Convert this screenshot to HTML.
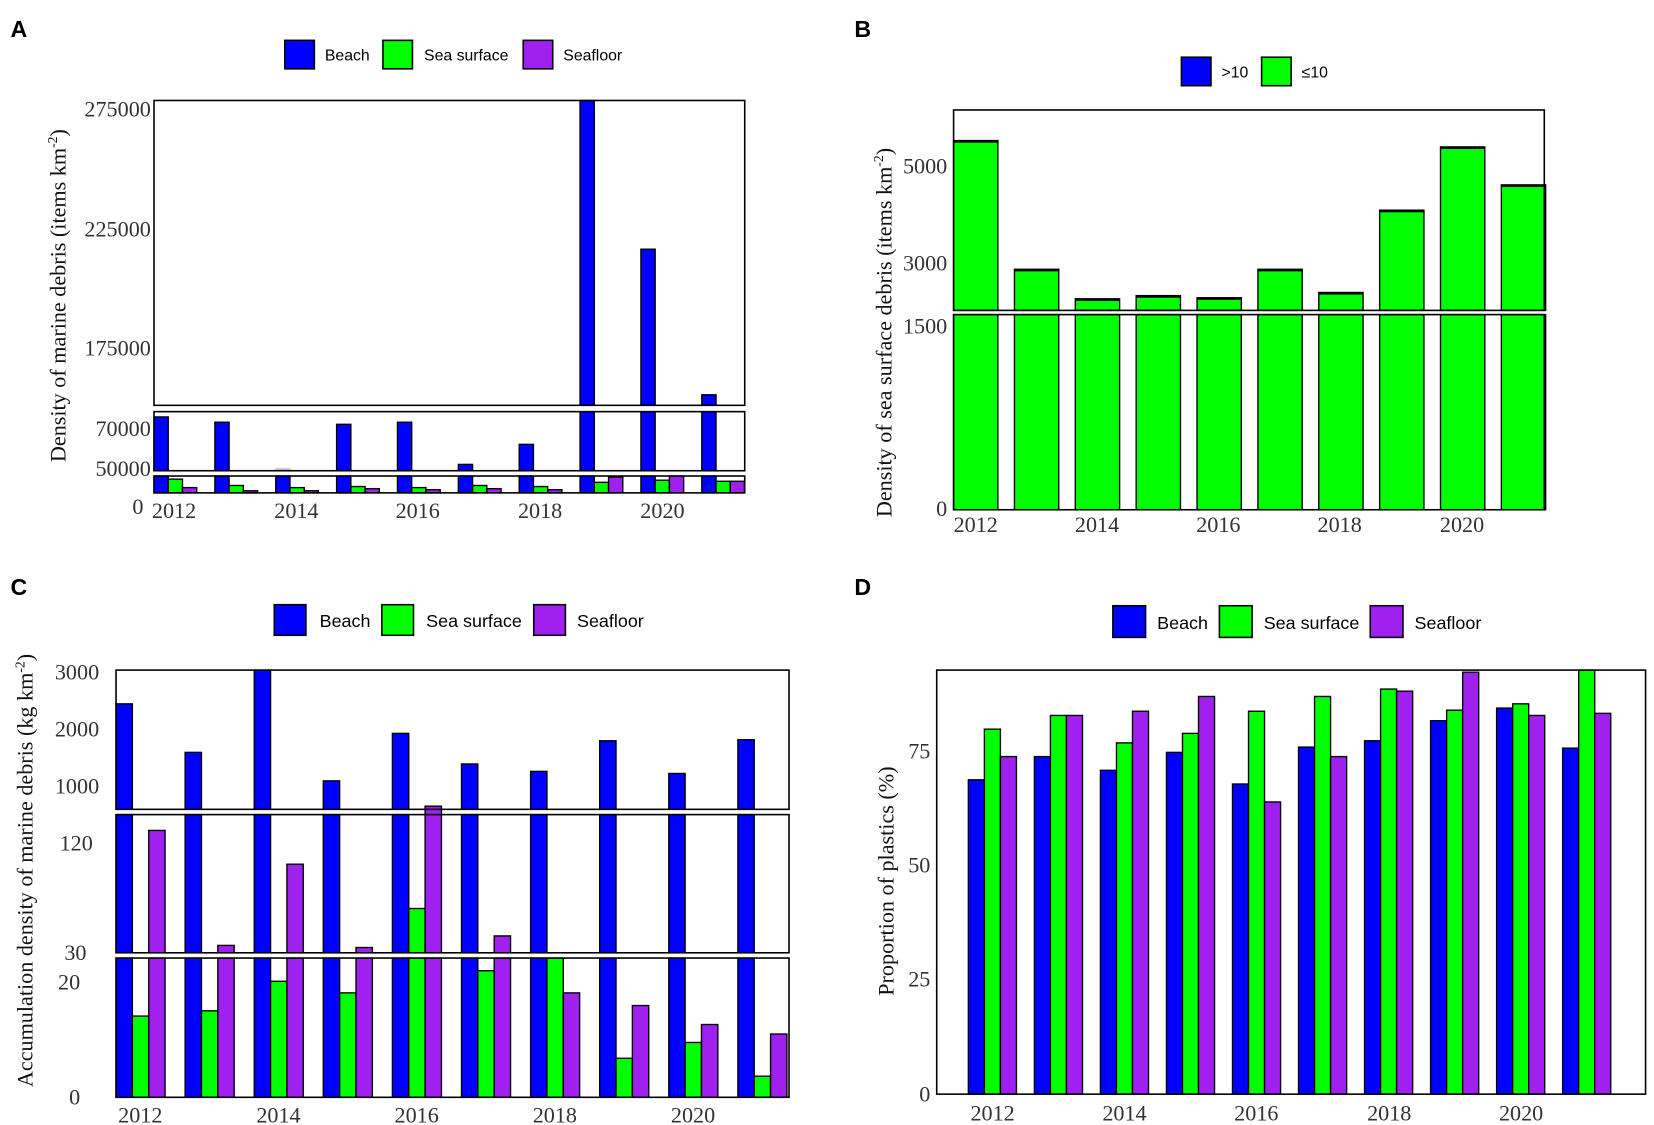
<!DOCTYPE html>
<html><head><meta charset="utf-8"><style>
html,body{margin:0;padding:0;background:#fff;}
svg{display:block}
.s{font-family:"Liberation Serif",serif;fill:#333;font-size:21px}
.a{font-family:"Liberation Sans",sans-serif;fill:#000}
.L{font-family:"Liberation Sans",sans-serif;font-weight:bold;font-size:22px}
</style></head><body>
<svg id="g" width="1654" height="1125" viewBox="0 0 1568 1066" xmlns="http://www.w3.org/2000/svg">
<rect width="1568" height="1066" fill="#fff"/>
<g id="bars"></g>
<g fill="none" stroke="#000" stroke-width="1.5">
<rect x="146" y="95" width="560" height="289"/>
<rect x="146" y="390" width="560" height="56"/>
<rect x="146" y="451" width="560" height="16"/>
<rect x="904" y="104" width="560" height="190"/>
<rect x="904" y="298" width="560" height="185"/>
<rect x="110" y="635" width="638" height="132"/>
<rect x="110" y="772" width="638" height="131"/>
<rect x="110" y="908" width="638" height="132"/>
<rect x="888" y="635" width="672" height="402"/>
</g>
<g stroke="#000" stroke-width="1.5">
<rect x="270" y="38" width="28" height="27" fill="#00f"/><rect x="363" y="38" width="28" height="27" fill="#0f0"/><rect x="496" y="38" width="28" height="27" fill="#a020f0"/>
<rect x="1120" y="54" width="28" height="27" fill="#00f"/><rect x="1196" y="54" width="28" height="27" fill="#0f0"/>
<rect x="260" y="573" width="30" height="29" fill="#00f"/><rect x="362" y="573" width="30" height="29" fill="#0f0"/><rect x="506" y="573" width="30" height="29" fill="#a020f0"/>
<rect x="1055" y="574" width="31" height="30" fill="#00f"/><rect x="1156" y="574" width="31" height="30" fill="#0f0"/><rect x="1299" y="574" width="31" height="30" fill="#a020f0"/>
</g>
<g class="a" font-size="15">
<text x="308" y="57">Beach</text><text x="402" y="57">Sea surface</text><text x="534" y="57">Seafloor</text>
<text x="1158" y="73">&gt;10</text><text x="1234" y="73">≤10</text>
</g>
<g class="a" font-size="17">
<text x="303" y="594">Beach</text><text x="404" y="594">Sea surface</text><text x="547" y="594">Seafloor</text>
<text x="1097" y="596">Beach</text><text x="1198" y="596">Sea surface</text><text x="1341" y="596">Seafloor</text>
</g>
<text class="L" x="10" y="35">A</text><text class="L" x="810" y="35">B</text>
<text class="L" x="10" y="564">C</text><text class="L" x="810" y="564">D</text>
<g class="s" text-anchor="end">
<text x="143" y="110">275000</text><text x="143" y="224">225000</text><text x="143" y="337">175000</text>
<text x="143" y="413">70000</text><text x="143" y="451">50000</text><text x="136" y="487">0</text>
<text x="898" y="164">5000</text><text x="898" y="256">3000</text><text x="898" y="316">1500</text><text x="898" y="489">0</text>
<text x="94" y="644">3000</text><text x="94" y="698">2000</text><text x="94" y="752">1000</text>
<text x="88" y="806">120</text><text x="82" y="910">30</text>
<text x="76" y="938">20</text><text x="76" y="1047">0</text>
<text x="882" y="719">75</text><text x="882" y="827">50</text><text x="882" y="935">25</text><text x="882" y="1044">0</text>
</g>
<g class="s" text-anchor="middle">
<text x="165" y="491">2012</text><text x="281" y="491">2014</text><text x="396" y="491">2016</text><text x="512" y="491">2018</text><text x="628" y="491">2020</text>
<text x="925" y="504">2012</text><text x="1040" y="504">2014</text><text x="1155" y="504">2016</text><text x="1270" y="504">2018</text><text x="1386" y="504">2020</text>
<text x="133" y="1064">2012</text><text x="264" y="1064">2014</text><text x="395" y="1064">2016</text><text x="526" y="1064">2018</text><text x="657" y="1064">2020</text>
<text x="941" y="1062">2012</text><text x="1066" y="1062">2014</text><text x="1191" y="1062">2016</text><text x="1317" y="1062">2018</text><text x="1442" y="1062">2020</text>
</g>
<g class="s" text-anchor="middle" style="font-size:21px;fill:#111">
<text transform="translate(62,280) rotate(-90)">Density of marine debris (items km<tspan font-size="13" dy="-8">-2</tspan><tspan dy="8">)</tspan></text>
<text transform="translate(845,315) rotate(-90)">Density of sea surface debris (items km<tspan font-size="13" dy="-8">-2</tspan><tspan dy="8">)</tspan></text>
<text transform="translate(31,825) rotate(-90)">Accumulation density of marine debris (kg  km<tspan font-size="13" dy="-8">-2</tspan><tspan dy="8">)</tspan></text>
<text transform="translate(847,835) rotate(-90)">Proportion of plastics (%)</text>
</g>
</svg>
<script>
var B='#00f',G='#0f0',P='#a020f0',h='';
function r(x,y,w,b,c,sc){if(b-y<=0)return;h+='<rect x="'+x+'" y="'+y+'" width="'+w+'" height="'+(b-y)+'" fill="'+c+'" stroke="'+(sc||'#000')+'" stroke-width="1.3"/>';}
var aBm=[395,400,444,402,400,440,421,390,390,390];
var aU=[0,0,0,0,0,0,0,95,236,374];
var aG=[454,460,462,461,462,460,461,457,455,456],aP=[462,465,465,463,464,463,464,452,451,456];
for(var i=0;i<10;i++){var x=146+57.7*i,w=13.5;
 if(aU[i])r(x,aU[i],w,384,B);
 if(i==2)r(x,aBm[i],w,446,'#c8c8f0','#ccc');else r(x,aBm[i],w,446,B);
 r(x,451,w,467,B);
 r(x+w,aG[i],w,467,G);r(x+2*w,aP[i],w,467,P);}
var bT=[133,255,283,280,282,255,277,199,139,175];
for(i=0;i<10;i++){var x=904+57.7*i;r(x,bT[i],42,294,G);h+='<rect x="'+x+'" y="'+bT[i]+'" width="42" height="2" fill="#000"/>';r(x,298,42,483,G);}
var cB=[667,713,635,740,695,724,731,702,733,701];
var cG=[963,958,930,941,861,920,908,1003,988,1020];
var cP=[787,896,819,898,763,887,941,953,971,980];
for(i=0;i<10;i++){var x=110+65.5*i,w=15.5;
 r(x,cB[i],w,767,B);r(x,772,w,903,B);r(x,908,w,1040,B);
 var g=cG[i];if(g<908){r(x+w,g,w,903,G);r(x+w,908,w,1040,G);}else r(x+w,g,w,1040,G);
 var p=cP[i];if(p<908){r(x+2*w,Math.max(p,764),w,903,P);r(x+2*w,908,w,1040,P);}else r(x+2*w,p,w,1040,P);}
var dB=[739,717,730,713,743,708,702,683,671,709],dG=[691,678,704,695,674,660,653,673,667,635],dP=[717,678,674,660,760,717,655,637,678,676];
for(i=0;i<10;i++){var x=918+62.6*i,w=15.2;r(x,dB[i],w,1037,B);r(x+w,dG[i],w,1037,G);r(x+2*w,dP[i],w,1037,P);}
document.getElementById('bars').innerHTML=h;
</script>
</body></html>
